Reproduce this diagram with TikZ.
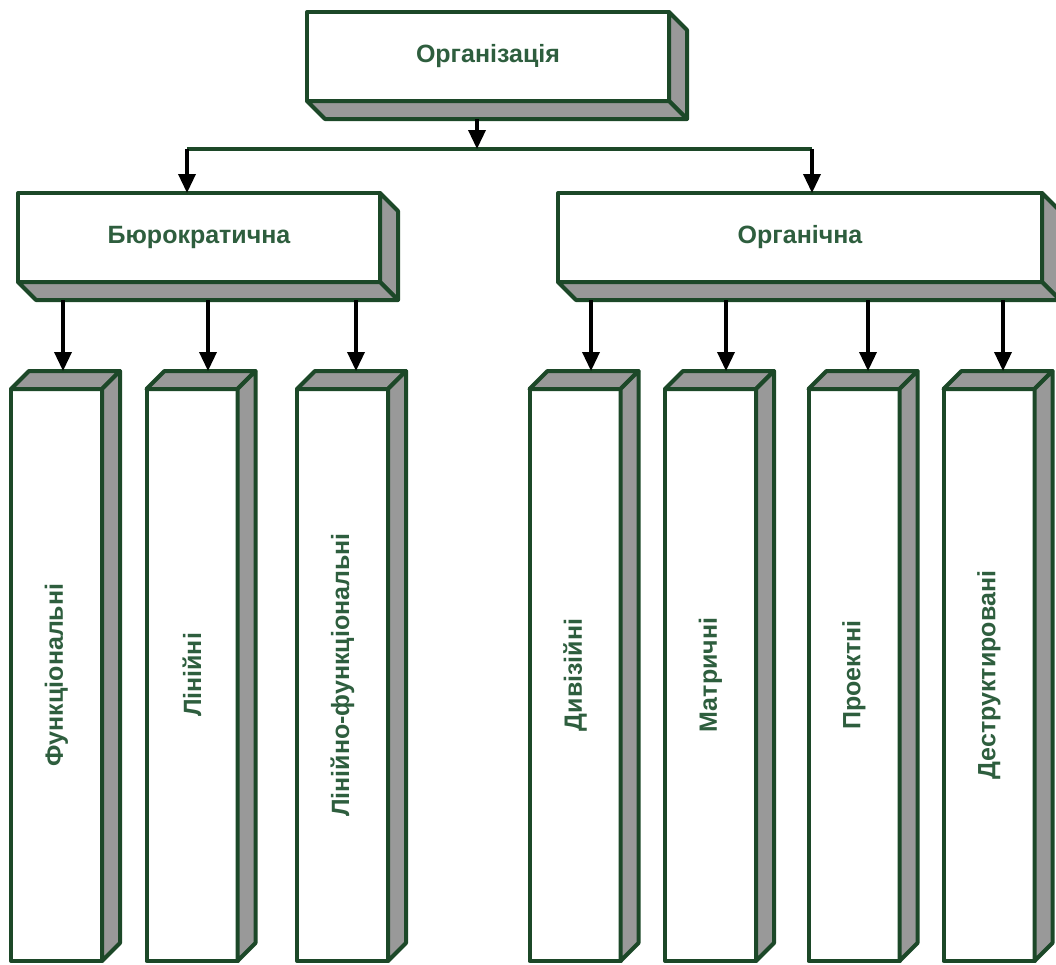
\documentclass[tikz,border=0pt]{standalone}
\usepackage{fontspec}
\usepackage{graphicx}
\setmainfont{Liberation Sans}
\usetikzlibrary{arrows.meta,calc}
\definecolor{edgegreen}{RGB}{28,72,40}
\definecolor{textgreen}{RGB}{46,94,62}
\definecolor{sidegray}{RGB}{153,153,153}
\begin{document}
\begin{tikzpicture}[x=1pt,y=-1pt,
  face/.style={draw=edgegreen, fill=white, line width=4pt, outer sep=0pt,
    inner sep=0pt, line join=round, text=textgreen,
    font=\fontsize{25}{30}\selectfont\bfseries},
  wide/.style={face, minimum height=89pt},
  tall/.style={face, minimum width=91pt, minimum height=572pt},
  side/.style={draw=edgegreen, fill=sidegray, line width=4pt, line join=round},
  arr/.style={line width=3.5pt, -{Triangle[length=19pt,width=17pt]}},
  bus/.style={draw=edgegreen, line width=3.5pt}
]
\useasboundingbox (0,0) rectangle (1056,964);

% front faces of the wide boxes
\node[wide, minimum width=362pt] (org)  at (488,56.5)  {Організація};
\node[wide, minimum width=362pt] (bur)  at (199,237.5) {Бюрократична};
\node[wide, minimum width=484pt] (orgn) at (800,237.5) {Органічна};

% depth of the wide boxes: right and bottom faces
\foreach \n in {org,bur,orgn} {
  \draw[side] (\n.north east) -- ++(18,18) -- ($(\n.south east)+(18,18)$)
              -- (\n.south east) -- cycle;
  \draw[side] (\n.south west) -- ++(18,18) -- ($(\n.south east)+(18,18)$)
              -- (\n.south east) -- cycle;
}

% front faces of the tall boxes
\node[tall] (f1) at (56.5,675)  {\rotatebox{90}{Функціональні}};
\node[tall] (f2) at (192,675)   {\rotatebox{90}{Лінійні}};
\node[tall] (f3) at (342.5,675) {\rotatebox{90}{Лінійно-функціональні}};
\node[tall] (g1) at (575,675)   {\rotatebox{90}{Дивізійні}};
\node[tall] (g2) at (710.5,675) {\rotatebox{90}{Матричні}};
\node[tall] (g3) at (854,675)   {\rotatebox{90}{Проектні}};
\node[tall] (g4) at (989,675)   {\rotatebox{90}{Деструктировані}};

% depth of the tall boxes: top and right faces
\foreach \n in {f1,f2,f3,g1,g2,g3,g4} {
  \draw[side] (\n.north west) -- ++(18,-18) -- ($(\n.north east)+(18,-18)$)
              -- (\n.north east) -- cycle;
  \draw[side] (\n.north east) -- ++(18,-18) -- ($(\n.south east)+(18,-18)$)
              -- (\n.south east) -- cycle;
}

% connectors
\coordinate (orgout) at ([xshift=-11pt,yshift=-18pt]org.south);
\coordinate (busL) at (187,149);
\coordinate (busR) at (812,149);
\draw[bus] (busL) -- (busR);
\draw[arr] (orgout) -- (orgout |- busL);
\draw[arr] (busL) -- (busL |- bur.north);
\draw[arr] (busR) -- (busR |- orgn.north);

\coordinate (burout) at ([yshift=-18pt]bur.south);
\coordinate (orgnout) at ([yshift=-18pt]orgn.south);
\foreach \n/\s in {f1/6.5,f2/16,f3/13.5} {
  \coordinate (\n-in) at ([xshift=\s pt,yshift=18pt]\n.north);
  \draw[arr] (burout -| \n-in) -- (\n-in);
}
\foreach \n/\s in {g1/16,g2/15.5,g3/14,g4/14} {
  \coordinate (\n-in) at ([xshift=\s pt,yshift=18pt]\n.north);
  \draw[arr] (orgnout -| \n-in) -- (\n-in);
}
\end{tikzpicture}
\end{document}
